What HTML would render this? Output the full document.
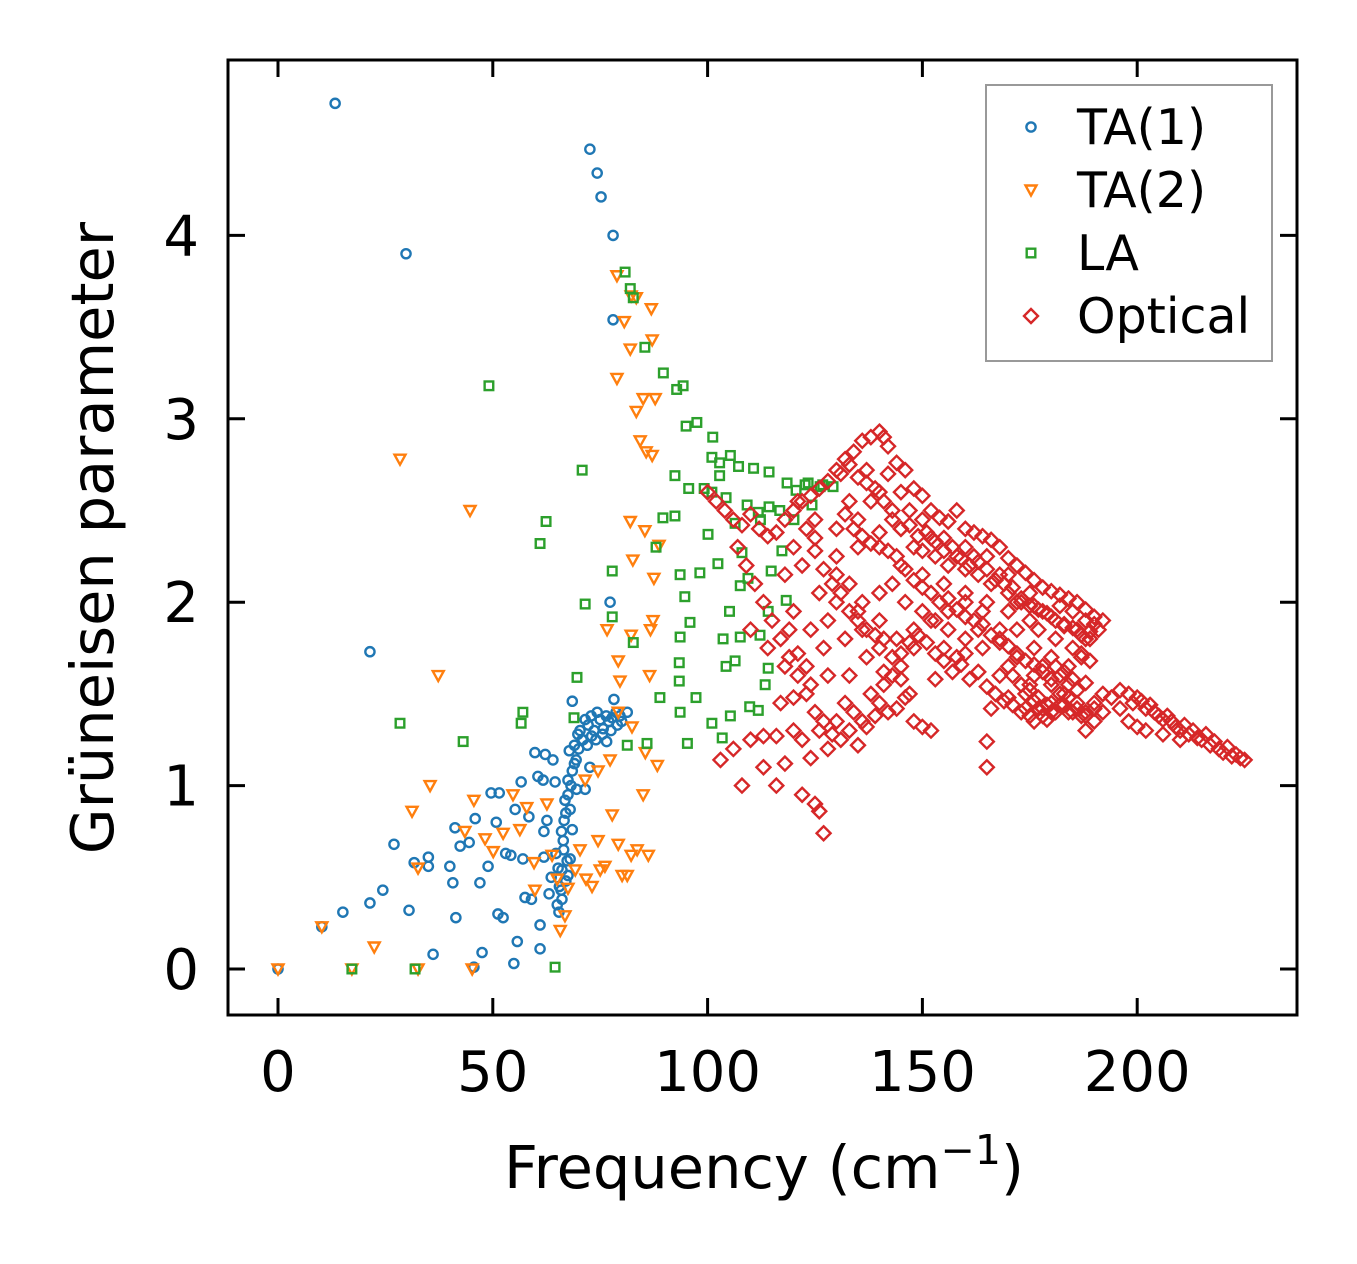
<!DOCTYPE html>
<html><head><meta charset="utf-8"><style>
html,body{margin:0;padding:0;background:#fff;}
svg{display:block;font-family:"DejaVu Sans","Liberation Sans",sans-serif;}
</style></head><body>
<svg id="chart" width="1357" height="1264" viewBox="0 0 1357 1264" xmlns="http://www.w3.org/2000/svg">
<rect width="1357" height="1264" fill="#fff"/>
<g id="marks"></g>
<g id="axes"></g>
<g id="legend">
<rect x="986" y="85" width="286" height="276" fill="#fff" fill-opacity="0.8" stroke="#999" stroke-width="2"/>
</g>
</svg>
<script>
const xTicks=[0,50,100,150,200];
const yTicks=[0,1,2,3,4];
const ta1F=[13.3,29.8,21.4,72.6,74.3,75.2,78,78,77.3,78.2,68.5,0,10.2,15.1,21.4,24.4,27,30.5,31.7,35,35,36.1,40,40.7,41.4,41.2,42.4,44.5,45.9,45.6,47,47.5,48.9,49.6,50.8,51.5,51.2,52.4,53,54.2,54.9,55.2,55.7,56.6,57,57.5,58.4,59,59.8,60.5,61,61.7,62.2,61.9,61.9,61,62.6,63.1,63.6,64.5,64.7,64,65,65.4,65.9,66.1,66.4,66.6,66.8,67,67.3,67.5,67.8,68,68.5,69,69.4,69.8,70.3,70.8,71.5,72.2,72.9,73.6,74.3,75,75.7,76.4,77,77.8,78.7,79.6,81.3,72.6,71.5,68.5,67.5,66.1,65.5,66.5,67.5,68.2,69,70,71,72,73,74,75.5,76.5,77.5,79,80,66,67,68,69.5,65.2];
const ta1G=[4.72,3.90,1.73,4.47,4.34,4.21,4.0,3.54,2.0,1.47,1.46,0,0.23,0.31,0.36,0.43,0.68,0.32,0.58,0.61,0.56,0.08,0.56,0.47,0.28,0.77,0.67,0.69,0.82,0.01,0.47,0.09,0.56,0.96,0.80,0.96,0.30,0.28,0.63,0.62,0.03,0.87,0.15,1.02,0.6,0.39,0.83,0.38,1.18,1.05,0.24,1.03,1.17,0.75,0.61,0.11,0.81,0.41,0.5,1.02,0.63,1.14,0.35,0.31,0.43,0.54,0.70,0.81,0.92,0.48,0.59,1.03,1.19,0.87,1.08,1.22,1.14,1.28,1.30,1.25,1.36,1.33,1.38,1.30,1.40,1.36,1.31,1.38,1.35,1.37,1.40,1.38,1.40,1.1,0.98,0.76,0.51,0.38,0.45,0.65,0.95,1.00,1.12,1.20,1.25,1.22,1.27,1.25,1.28,1.24,1.30,1.33,1.35,0.75,0.85,0.60,0.98,0.55];
const ta2F=[28.4,44.7,37.3,35.4,31.2,32.6,22.4,17.2,10.2,0,32.6,45.2,45.6,43.5,48.2,50.1,52.4,54.7,56.3,57.9,59.6,59.8,62.6,63.8,65,65.7,66.8,67.5,69.2,70.3,71.7,73.1,74.5,75,76.1,77.8,79.2,80.1,81.3,82.2,83.6,85,86.2,88.3,85.5,82.4,79.2,79.2,76.6,82.2,79.6,77.3,74.5,71.5,82.6,85.4,87.5,88.7,82,78.9,82.2,83.4,80.6,82,86.9,87.1,78.9,85,87.8,83.4,84.3,85.7,87.1,87.3,86.5,86.7];
const ta2G=[2.78,2.50,1.60,1.0,0.86,0.55,0.12,0,0.23,0,0,0,0.92,0.75,0.71,0.64,0.74,0.95,0.76,0.88,0.58,0.43,0.9,0.62,0.49,0.21,0.29,0.44,0.54,0.65,0.49,0.45,0.70,0.54,0.56,0.84,0.68,0.51,0.51,0.62,0.65,0.95,0.62,1.11,1.18,1.32,1.40,1.68,1.85,1.82,1.57,1.14,1.08,1.03,2.23,2.39,2.13,2.31,2.44,3.78,3.67,3.66,3.53,3.38,3.60,3.43,3.22,3.11,3.11,3.04,2.88,2.82,2.80,1.90,1.60,1.85];
const laF=[49.1,62.4,61,70.8,71.5,28.4,43.1,56.6,57,69.6,68.9,31.9,17.2,77.8,77.8,80.8,82,82.7,85.4,89.7,92.8,94.3,95,97.5,101.2,101,102.8,105.3,107.2,110.7,114.3,118.5,122.7,126.2,129.2,92.4,95.6,101,104.3,102.8,99.2,109.2,111.8,114.3,116.8,112.3,92.4,89.6,88,100.1,106.4,108,102.4,98.2,93.6,94.7,95.9,93.6,82.7,93.4,93.4,88.9,97.3,93.6,101,103.4,105.3,104.3,103.6,105.1,107.6,109.4,107.6,106.4,109.8,111.8,113.4,114.1,114.1,114.8,118.3,117.3,120.1,120.6,124.3,126.8,123.4,112.2,95.3,85.9,81.3,64.5];
const laG=[3.18,2.44,2.32,2.72,1.99,1.34,1.24,1.34,1.40,1.59,1.37,0,0,2.17,1.92,3.80,3.71,3.66,3.39,3.25,3.16,3.18,2.96,2.98,2.9,2.79,2.76,2.80,2.74,2.73,2.71,2.65,2.64,2.63,2.63,2.69,2.62,2.60,2.57,2.69,2.62,2.53,2.49,2.52,2.50,2.45,2.47,2.46,2.30,2.37,2.43,2.27,2.21,2.16,2.15,2.03,1.89,1.81,1.78,1.67,1.57,1.48,1.48,1.40,1.34,1.26,1.38,1.65,1.80,1.95,2.09,2.13,1.81,1.68,1.43,1.41,1.55,1.64,1.95,2.17,2.01,2.28,2.45,2.61,2.53,2.64,2.65,1.82,1.23,1.23,1.22,0.01];
const opF=[100,102,104,106,108,110,112,114,116,118,120,122,124,126,128,130,132,134,136,138,140,141,142,144,146,148,150,152,154,156,158,160,162,164,166,168,170,172,174,176,178,180,182,184,186,188,190,192,
120,125,130,135,138,140,143,145,148,150,153,156,160,163,166,170,173,176,180,183,186,189,
118,122,126,130,133,136,140,143,146,150,153,156,160,164,168,172,176,180,184,187,
120,124,128,132,136,140,144,148,152,156,160,164,168,172,176,180,183,
103,106,110,113,116,118,120,122,124,126,128,130,132,134,136,138,140,142,144,146,148,150,152,122,125,126,127,116,120,124,118,114,110,121,128,133,137,141,
153,160,165,165,166,170,168,174,176,178,180,182,184,186,188,190,192,194,196,198,199,200,201,202,203,204,205,206,207,208,209,210,211,212,213,214,215,216,217,218,219,220,221,222,223,224,225,196,198,200,202,192,188,190,206,210,
145,150,155,160,165,170,175,178,182,185,188,190,175,170,165,160,155,150,145,140,135,130,125,133,137,142,147,152,158,162,168,172,177,181,185,188,191,178,175,170,163,158,155,148,145,140,135,130,127,123,119,117,113,108,
131,133,135,137,139,141,143,145,147,149,151,153,155,157,159,161,163,165,167,169,171,173,175,177,179,181,183,185,187,189,
132,134,136,138,140,142,144,146,148,150,152,154,156,158,160,162,164,166,168,170,172,174,176,178,180,182,184,186,188,
121,123,125,127,129,131,133,135,137,139,141,143,145,147,149,151,153,155,157,159,161,163,165,167,169,171,173,175,177,179,181,183,185,187,
107,109,111,113,115,117,119,121,123,125,127,129,131,133,135,137,139,141,143,145,147,
174,176,178,180,182,184,186,188,190,171,173,175,177,179,181,183,185,187,189];
const opG=[2.6,2.55,2.50,2.45,2.42,2.48,2.40,2.36,2.38,2.45,2.50,2.55,2.58,2.62,2.66,2.72,2.78,2.82,2.88,2.90,2.93,2.90,2.85,2.76,2.72,2.62,2.58,2.50,2.46,2.44,2.50,2.40,2.38,2.36,2.34,2.30,2.24,2.20,2.16,2.12,2.08,2.06,2.04,2.02,2.00,1.96,1.92,1.90,
2.30,2.35,2.40,2.45,2.55,2.60,2.50,2.40,2.30,2.28,2.25,2.20,2.18,2.15,2.10,2.05,2.00,1.98,1.92,1.88,1.85,1.84,
2.15,2.20,2.05,2.15,2.10,2.00,2.05,2.10,2.00,1.95,1.90,1.85,1.80,1.75,1.80,1.85,1.75,1.70,1.65,1.70,
1.95,1.85,1.90,1.80,1.85,1.75,1.80,1.85,1.90,1.95,2.00,1.95,1.85,1.70,1.60,1.55,1.50,
1.14,1.20,1.25,1.27,1.00,1.12,1.30,1.25,1.15,1.30,1.20,1.35,1.45,1.40,1.35,1.50,1.45,1.40,1.42,1.48,1.35,1.32,1.30,0.95,0.90,0.86,0.74,1.27,1.48,1.55,1.65,1.75,1.85,1.72,1.60,1.60,1.70,1.62,
1.58,1.72,1.24,1.10,1.42,1.48,1.60,1.42,1.35,1.38,1.45,1.50,1.40,1.42,1.38,1.45,1.50,1.48,1.52,1.50,1.45,1.48,1.46,1.42,1.44,1.40,1.38,1.36,1.38,1.35,1.32,1.30,1.33,1.28,1.30,1.26,1.25,1.28,1.22,1.24,1.20,1.18,1.21,1.16,1.17,1.15,1.14,1.42,1.35,1.32,1.30,1.40,1.30,1.35,1.28,1.25,
2.60,2.45,2.35,2.30,2.25,2.15,2.05,1.95,1.98,1.95,1.90,1.88,1.90,1.95,2.00,2.05,2.10,2.15,2.20,2.30,2.30,2.25,2.45,2.55,2.65,2.70,2.50,2.35,2.25,2.25,2.15,2.00,1.85,1.80,1.75,1.80,1.85,1.65,1.55,1.65,1.85,1.70,1.75,1.75,1.65,1.90,1.95,2.00,1.75,1.65,1.85,1.45,1.10,1.00,
2.70,2.75,2.68,2.72,2.62,2.55,2.45,2.40,2.42,2.36,2.38,2.33,2.28,2.30,2.24,2.20,2.22,2.18,2.12,2.10,2.08,2.02,1.98,1.96,1.94,1.90,1.87,1.86,1.82,1.80,
2.48,2.40,2.36,2.32,2.38,2.28,2.25,2.18,2.12,2.08,2.05,2.00,2.02,1.96,1.92,1.90,1.88,1.82,1.78,1.76,1.72,1.68,1.66,1.62,1.58,1.60,1.55,1.52,1.56,
2.55,2.40,2.28,2.18,2.10,2.05,1.95,1.90,1.85,1.82,1.80,1.70,1.72,1.78,1.82,1.78,1.72,1.68,1.62,1.66,1.58,1.62,1.54,1.50,1.46,1.44,1.40,1.38,1.42,1.36,1.40,1.44,1.40,1.38,
2.30,2.20,2.10,2.00,1.90,1.80,1.70,1.60,1.50,1.40,1.35,1.28,1.25,1.30,1.22,1.32,1.38,1.55,1.60,1.58,1.50,
1.50,1.46,1.42,1.40,1.44,1.48,1.45,1.40,1.42,1.60,1.55,1.52,1.48,1.44,1.65,1.62,1.58,1.72,1.68];

const X0=228,X1=1297,Y0=60,Y1=1015;
function sx(v){return 278+v*4.296;}
function sy(v){return 969-v*183.4;}
const NS='http://www.w3.org/2000/svg';
const marks=document.getElementById('marks');
const axes=document.getElementById('axes');
function mk(tag,attrs,parent){const e=document.createElementNS(NS,tag);for(const k in attrs)e.setAttribute(k,attrs[k]);parent.appendChild(e);return e;}
function marker(kind,cx,cy,color,parent){
  let e;
  if(kind==='o')e=mk('circle',{cx:cx,cy:cy,r:4.6},parent);
  else if(kind==='v')e=mk('polygon',{points:`${cx-5.5},${cy-4.5} ${cx+5.5},${cy-4.5} ${cx},${cy+5.5}`},parent);
  else if(kind==='s')e=mk('rect',{x:cx-4.3,y:cy-4.3,width:8.6,height:8.6},parent);
  else e=mk('polygon',{points:`${cx},${cy-7} ${cx+7},${cy} ${cx},${cy+7} ${cx-7},${cy}`},parent);
  e.setAttribute('fill','none');e.setAttribute('stroke',color);e.setAttribute('stroke-width','2.4');
  return e;
}
const series=[
 {name:'TA(1)',f:ta1F,g:ta1G,k:'o',c:'#1f77b4',id:'ta1'},
 {name:'TA(2)',f:ta2F,g:ta2G,k:'v',c:'#ff7f0e',id:'ta2'},
 {name:'LA',f:laF,g:laG,k:'s',c:'#2ca02c',id:'la'},
 {name:'Optical',f:opF,g:opG,k:'d',c:'#d62728',id:'optical'}];
series.forEach(s=>{
  const g=mk('g',{},marks);
  
  
  const n=Math.min(s.f.length,s.g.length);
  for(let i=0;i<n;i++){
    const m=marker(s.k,sx(s.f[i]),sy(s.g[i]),s.c,g);
    
    
  }
});
const fr=mk('rect',{x:X0,y:Y0,width:X1-X0,height:Y1-Y0,fill:'none',stroke:'#000','stroke-width':3},axes);


xTicks.forEach(t=>{
  const x=sx(t);
  mk('line',{x1:x,y1:Y1,x2:x,y2:Y1-17,stroke:'#000','stroke-width':3},axes);
  mk('line',{x1:x,y1:Y0,x2:x,y2:Y0+17,stroke:'#000','stroke-width':3},axes);
  const tx=mk('text',{x:x,y:1091,'text-anchor':'middle','font-size':56,fill:'#000'},axes);
  tx.textContent=String(t);
  
  
});
yTicks.forEach(t=>{
  const y=sy(t);
  mk('line',{x1:X0,y1:y,x2:X0+17,y2:y,stroke:'#000','stroke-width':3},axes);
  mk('line',{x1:X1,y1:y,x2:X1-17,y2:y,stroke:'#000','stroke-width':3},axes);
  const tx=mk('text',{x:199,y:y+20,'text-anchor':'end','font-size':56,fill:'#000'},axes);
  tx.textContent=String(t);
  
  
});
const xl=mk('text',{x:764,y:1188,'text-anchor':'middle','font-size':59,fill:'#000'},axes);
xl.innerHTML='Frequency (cm<tspan font-size="41" dy="-24">−1</tspan><tspan dy="24">)</tspan>';


const yl=mk('text',{x:0,y:0,'text-anchor':'middle','font-size':59,fill:'#000',transform:'translate(113,538) rotate(-90)'},axes);
yl.textContent='Grüneisen parameter';


const lg=document.getElementById('legend');
series.forEach((s,i)=>{
  const y=127+i*63;
  const g=mk('g',{},lg);
  
  
  marker(s.k,1031,y,s.c,g);
  const t=mk('text',{x:1077,y:y+17,'font-size':49,fill:'#000'},g);
  t.textContent=s.name;
});
</script>
</body></html>
